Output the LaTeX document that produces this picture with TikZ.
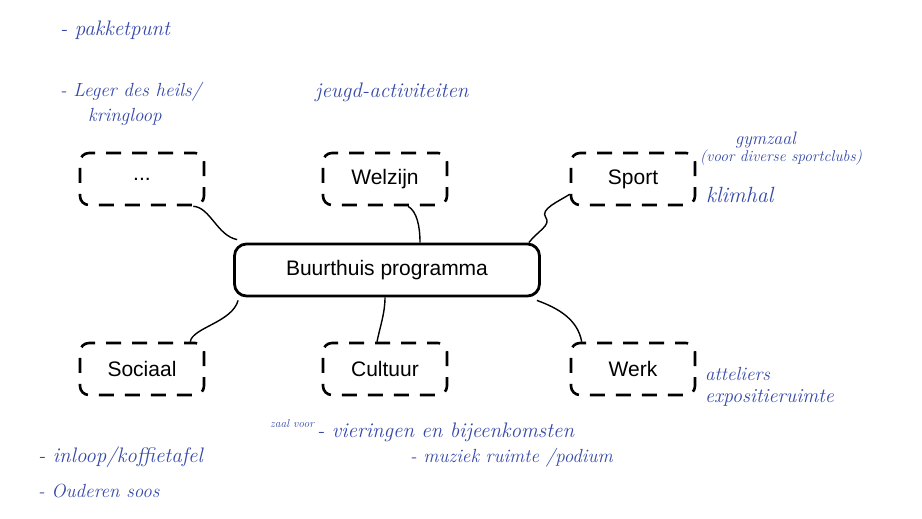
\documentclass[tikz,border=0pt]{standalone}
\usepackage{fontspec}
\setsansfont{Liberation Sans}
\usetikzlibrary{calc}
\definecolor{ink}{RGB}{52,72,168}
\tikzset{
  topic/.style={draw, line width=2.6pt, dash pattern=on 15pt off 11pt, dash phase=4pt, rounded corners=9pt,
    minimum width=124pt, minimum height=52pt, font=\sffamily\fontsize{21}{24}\selectfont},
  hub/.style={draw, line width=2.8pt, rounded corners=12pt, minimum width=305pt, minimum height=52pt,
    font=\sffamily\fontsize{21}{24}\selectfont},
  link/.style={line width=1.4pt},
  hand/.style={text=ink, font=\itshape\fontsize{21}{24}\selectfont, anchor=west, inner sep=0pt},
  handsize/.style={font=\itshape\fontsize{#1}{#1}\selectfont}
}
\begin{document}
\begin{tikzpicture}[x=1pt,y=-1pt]
\useasboundingbox (0,0) rectangle (922,519);
\fill[white] (0,0) rectangle (922,519);

\node[topic] (dots) at (142,179) {...};
\node[topic] (welzijn) at (385,179) {Welzijn};
\node[topic] (sport) at (633,179) {Sport};
\node[hub] (hub) at (387,270) {Buurthuis programma};
\node[topic] (sociaal) at (142,369) {Sociaal};
\node[topic] (cultuur) at (385,369) {Cultuur};
\node[topic] (werk) at (633,369) {Werk};

\draw[link] ([xshift=-12pt]dots.south east) .. controls +(17,1) and +(-20,-4) .. ([shift={(4pt,3pt)}]hub.north west);
\draw[link] ([xshift=23pt]welzijn.south) .. controls +(9,5) and +(0,-16) .. ([xshift=33pt]hub.north);
\draw[link] ([yshift=12pt]sport.south west) .. controls +(-11,7) and +(-6,-8) .. ($(sport.south west)+(-24,11)$)
  .. controls +(6,8) and +(8,-11) .. ([xshift=-12pt]hub.north east);
\draw[link] ([shift={(5pt,-3pt)}]hub.south west) .. controls +(-6,22) and +(2,-14) .. ([xshift=-15pt]sociaal.north east);
\draw[link] ([xshift=-2pt]hub.south) .. controls +(0,16) and +(3,-15) .. ([xshift=-8pt]cultuur.north);
\draw[link] ([shift={(-4pt,-3pt)}]hub.south east) .. controls +(22,8) and +(-4,-22) .. ([xshift=12pt]werk.north west);

% handwritten notes
\node[hand] (n1) at (60,30) {- pakketpunt};
\node[hand, handsize=19] (n2) at (60,92) {- Leger des heils/};
\node[hand, handsize=19] (n3) at (88,117) {kringloop};
\node[hand] (n4) at (315,92) {jeugd-activiteiten};
\node[hand, handsize=18] (n5) at (735,140) {gymzaal};
\node[hand, handsize=15.5] (n6) at (700,158) {(voor diverse sportclubs)};
\node[hand, handsize=22] (n7) at (706,195) {klimhal};
\node[hand, handsize=19] (n8) at (705,374) {atteliers};
\node[hand, handsize=20] (n9) at (705,398) {expositieruimte};
\node[hand, handsize=11.5] (n10) at (270,424) {zaal voor};
\node[hand] (n11) at (317,432) {- vieringen en bijeenkomsten};
\node[hand, handsize=19] (n12) at (410,458) {- muziek ruimte /podium};
\node[hand] (n13) at (38,457) {- inloop/koffietafel};
\node[hand, handsize=19] (n14) at (38,491) {- Ouderen soos};
\end{tikzpicture}
\end{document}
